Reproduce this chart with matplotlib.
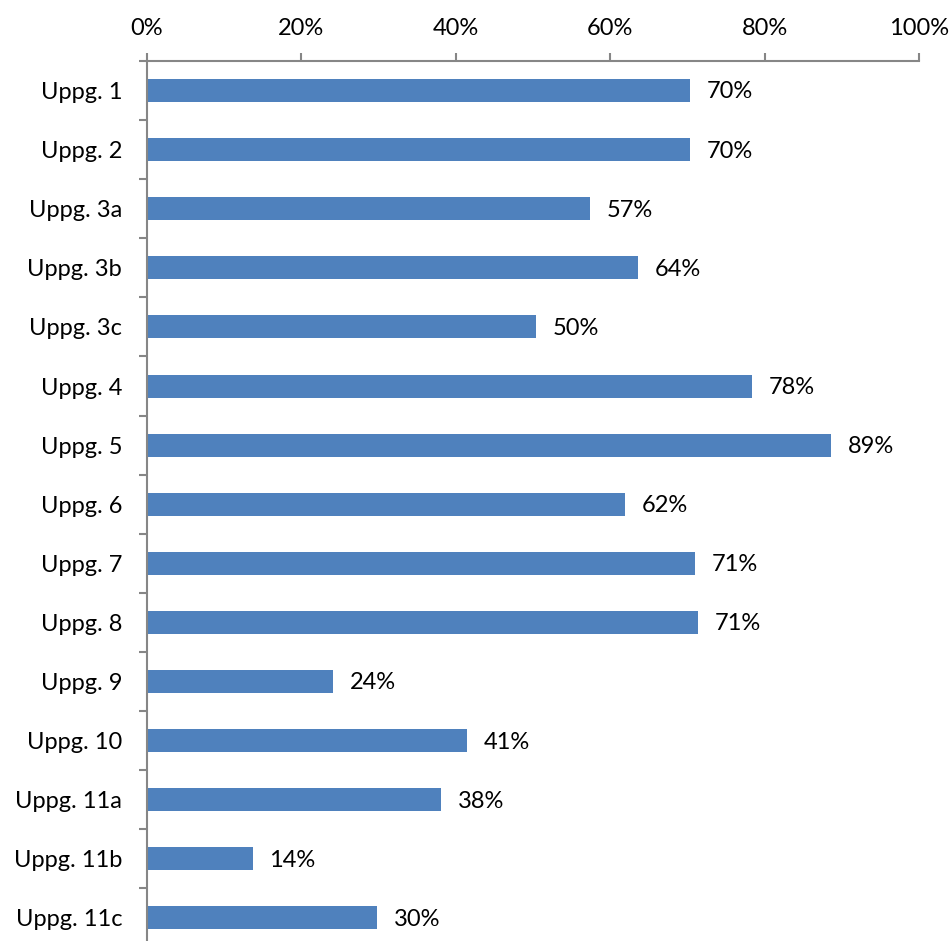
import matplotlib.pyplot as plt
import numpy as np

plt.rcParams['font.family'] = ['Lato', 'DejaVu Sans']

# bar lengths, in percent
tasks = ["Uppg. 1", "Uppg. 2", "Uppg. 3a", "Uppg. 3b", "Uppg. 3c", "Uppg. 4",
         "Uppg. 5", "Uppg. 6", "Uppg. 7", "Uppg. 8", "Uppg. 9", "Uppg. 10",
         "Uppg. 11a", "Uppg. 11b", "Uppg. 11c"]
scores = [70.4, 70.3, 57.4, 63.6, 50.4, 78.4, 88.6, 61.9, 71.0, 71.4,
          24.1, 41.4, 38.1, 13.7, 29.8]
x_ticks = [0, 20, 40, 60, 80, 100]

grey = "#868686"
fs = 17

fig = plt.figure(figsize=(9.53, 9.41), dpi=100)
ax = fig.add_axes([0.1543, -0.0069, 0.81, 0.9421])

y = np.arange(len(tasks))
ax.barh(y, scores, height=0.39, color="#4F81BD")

for yi, v in zip(y, scores):
    ax.annotate(f"{v:.0f}%", (v, yi), xytext=(12, -1), textcoords="offset points",
                ha="left", va="center", fontsize=fs)

ax.set_xlim(0, 100)
ax.set_ylim(len(tasks) - 0.5, -0.5)

ax.xaxis.tick_top()
ax.set_xticks(x_ticks)
ax.set_xticklabels([f"{t}%" for t in x_ticks], fontsize=fs)
ax.tick_params(axis="x", direction="out", length=6, width=1.5, color=grey, pad=10)

ax.set_yticks(y)
ax.set_yticklabels(tasks, fontsize=fs)
ax.set_yticks(np.arange(len(tasks) + 1) - 0.5, minor=True)
ax.tick_params(axis="y", which="major", length=0, pad=18)
ax.tick_params(axis="y", which="minor", direction="out", length=6, width=1.5, color=grey)

for side in ["right", "bottom"]:
    ax.spines[side].set_visible(False)
for side in ["top", "left"]:
    ax.spines[side].set_color(grey)
    ax.spines[side].set_linewidth(1.5)

fig.savefig("out.png", dpi=100)
